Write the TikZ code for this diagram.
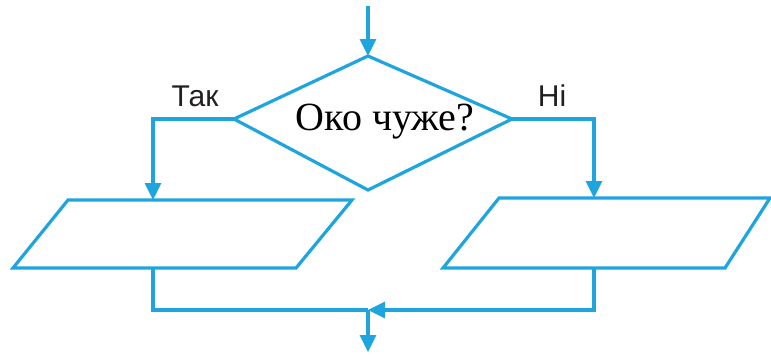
\documentclass[tikz,border=0pt]{standalone}
\usepackage{fontspec}
\setmainfont{Liberation Serif}
\newfontfamily\lblfont{Liberation Sans}
\usetikzlibrary{arrows.meta}
\definecolor{flowblue}{RGB}{30,165,222}
\definecolor{lbltext}{RGB}{35,31,32}
\begin{document}
\begin{tikzpicture}[x=1pt,y=-1pt,
  flow/.style={draw=flowblue,line width=3.2pt,line join=miter},
  arr/.style={flow,-{Triangle[length=17pt,width=16pt]}},
  lbl/.style={font=\lblfont\fontsize{30}{30}\selectfont,text=lbltext,inner sep=0pt}]
\useasboundingbox (0,0) rectangle (771,354);
% decision
\coordinate (dt) at (368,56);
\coordinate (db) at (368,190);
\coordinate (dl) at (234,119);
\coordinate (dr) at (512,119);
\draw[flow,fill=white] (dt) -- (dr) -- (db) -- (dl) -- cycle;
\node[inner sep=0pt,font=\fontsize{40}{40}\selectfont] (q) at (385,122) {Око чуже?};
% parallelograms
\draw[flow] (68,200) -- (352,200) -- (296,268) -- (13,268) -- cycle;
\draw[flow] (499,198) -- (770,198) -- (725,268) -- (443,268) -- cycle;
\coordinate (lt) at (153,200);
\coordinate (rt) at (594,198);
\coordinate (lb) at (153,268);
\coordinate (rb) at (594,268);
\coordinate (start) at (368,6);
\coordinate (lc) at (153,119);
\coordinate (rc) at (594,119);
\coordinate (ld) at (153,310);
\coordinate (rd) at (594,310);
\coordinate (mj) at (368,310);
\coordinate (end) at (368,352);
% connectors
\draw[arr] (start) -- (dt);
\draw[arr] (dl) -- (lc) -- (lt);
\draw[arr] (dr) -- (rc) -- (rt);
\draw[flow] (lb) -- (ld) -- (mj);
\draw[arr] (rb) -- (rd) -- (mj);
\draw[arr] (mj) -- (end);
% labels
\node[lbl] (tak) at (195,96) {Так};
\node[lbl] (ni) at (552,96) {Ні};
\end{tikzpicture}
\end{document}
